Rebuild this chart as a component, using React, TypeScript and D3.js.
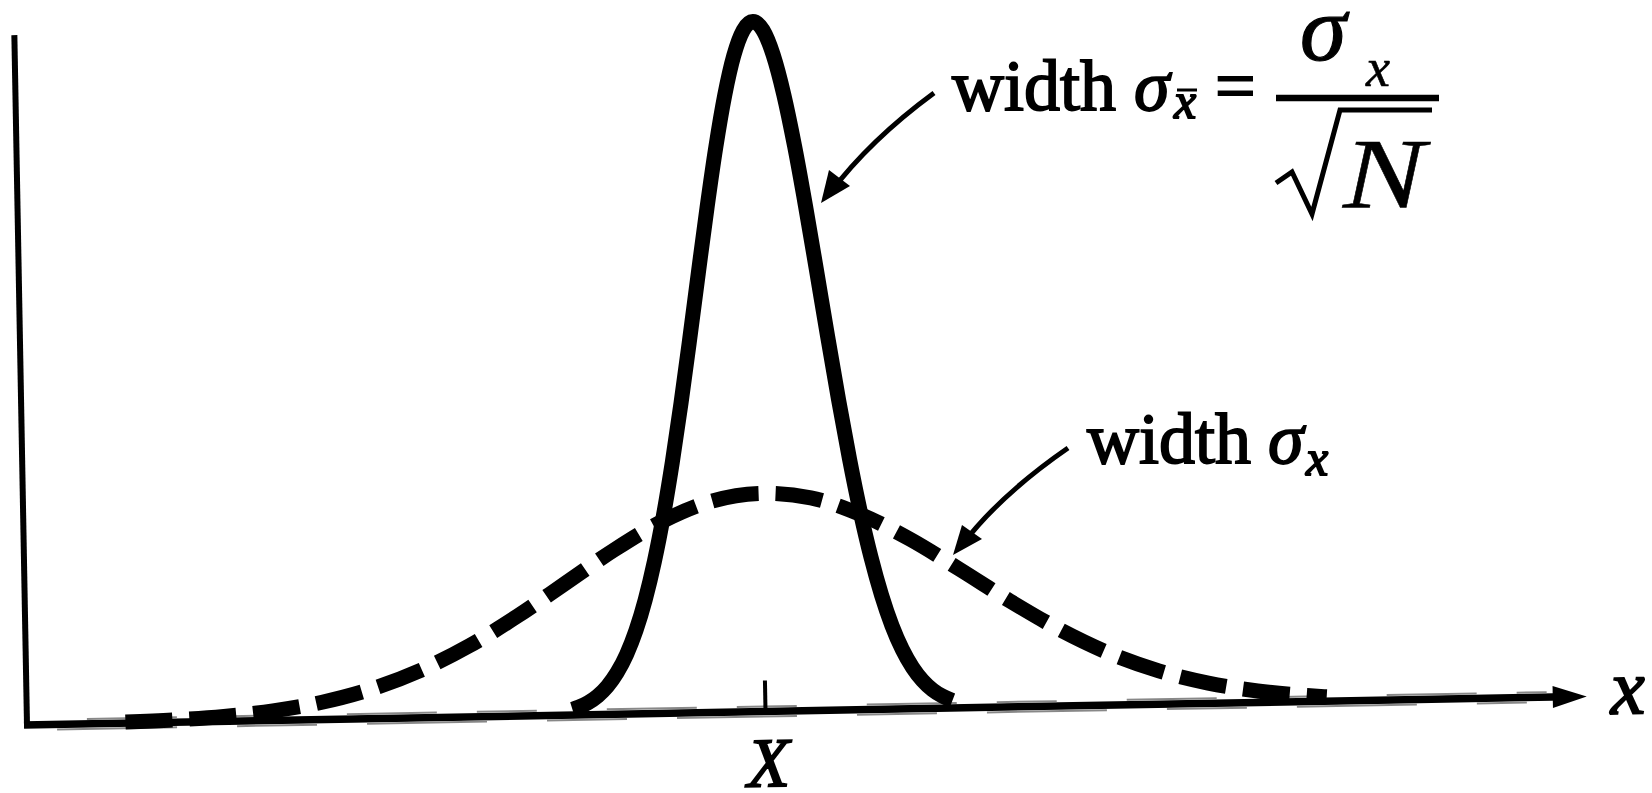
import React from "react";
import * as d3 from "d3";

const W = 1652;
const H = 793;

// Horizontal unit: the width σx of the single-measurement distribution; 0 is the true value X.
const axisXRange = [-3.75, 4.17];
const axisYMax = 1.2616;

// Distribution of single measurements (width σx) — dashed curve
const singleXs = [-3.25, -3.0, -2.75, -2.5, -2.25, -2.0, -1.75, -1.5, -1.25, -1.0, -0.75, -0.5, -0.25, 0,
  0.25, 0.5, 0.75, 1.0, 1.25, 1.5, 1.75, 2.0, 2.25, 2.5, 2.75, 2.85];
const singleYs = [0.0020, 0.0044, 0.0091, 0.0175, 0.0317, 0.0540, 0.0863, 0.1295, 0.1827, 0.2420, 0.3011, 0.3521, 0.3867, 0.3989,
  0.3890, 0.3570, 0.3100, 0.2530, 0.1940, 0.1400, 0.0950, 0.0610, 0.0370, 0.0210, 0.0110, 0.0080];

// Distribution of the mean of N measurements (width σx/√N) — solid curve
const meanXs = [-0.98, -0.95, -0.9, -0.85, -0.8, -0.75, -0.7, -0.65, -0.6, -0.55, -0.5, -0.45, -0.4, -0.35, -0.3, -0.25, -0.2, -0.15, -0.1, -0.05, 0,
  0.05, 0.1, 0.15, 0.2, 0.25, 0.3, 0.35, 0.4, 0.45, 0.5, 0.55, 0.6, 0.65, 0.7, 0.75, 0.8, 0.85, 0.9, 0.95];
const meanYs = [0.0104, 0.0138, 0.0220, 0.0340, 0.0514, 0.0758, 0.1089, 0.1525, 0.2085, 0.2781, 0.3614, 0.4584, 0.5669, 0.6838, 0.8044, 0.9230, 1.0329, 1.1274, 1.2001, 1.2459, 1.2616,
  1.2459, 1.2001, 1.1274, 1.0329, 0.9230, 0.8044, 0.6838, 0.5669, 0.4584, 0.3614, 0.2781, 0.2085, 0.1525, 0.1089, 0.0758, 0.0514, 0.0340, 0.0220, 0.0138];

const trueValue = 0;
const trueValueLabel = "X";
const axisLabel = "x";

const SERIF = "'Liberation Serif', 'Times New Roman', serif";
// scanned lettering is a little heavier than the plain face
const ink = { fill: "#000", stroke: "#000", strokeWidth: 1.8 } as const;

export default function App() {
  // plot frame (the whole drawing sits slightly tilted)
  const ox = 27;
  const oy = 725;
  const tilt = -1.05;

  const x = d3.scaleLinear().domain(axisXRange).range([ox, 1587]);
  const y = d3.scaleLinear().domain([0, axisYMax]).range([oy, 35]);

  const line = d3
    .line<[number, number]>()
    .x((d) => x(d[0]))
    .y((d) => y(d[1]))
    .curve(d3.curveMonotoneX);

  const singlePath = line(singleXs.map((v, i) => [v, singleYs[i]]) as [number, number][]) || "";
  const meanPath = line(meanXs.map((v, i) => [v, meanYs[i]]) as [number, number][]) || "";

  const xEnd = x(axisXRange[1]);
  const xTick = x(trueValue);

  return (
    <svg
      width={W}
      height={H}
      viewBox={`0 0 ${W} ${H}`}
      style={{ position: "absolute", left: 0, top: 0, background: "#fff" }}
    >
      <rect x={0} y={0} width={W} height={H} fill="#fff" />
      <g transform={`rotate(${tilt}, ${ox}, ${oy})`}>
        {/* axes */}
        <line x1={ox} y1={oy + 3} x2={ox} y2={y(axisYMax)} stroke="#000" strokeWidth={6} />
        <line x1={ox - 3} y1={oy} x2={xEnd - 20} y2={oy} stroke="#000" strokeWidth={7.5} />
        {/* faint doubling of the axis line */}
        <line x1={ox + 60} y1={oy - 5} x2={xEnd - 40} y2={oy - 5} stroke="#888" strokeWidth={2} strokeDasharray="90 40 60 70" />
        <line x1={ox + 30} y1={oy + 5} x2={xEnd - 60} y2={oy + 5} stroke="#888" strokeWidth={2} strokeDasharray="120 60 80 50" />
        <path d={`M${xEnd},${oy} L${xEnd - 34},${oy - 11} L${xEnd - 34},${oy + 11} Z`} fill="#000" />
        {/* tick at the true value */}
        <line x1={xTick} y1={oy} x2={xTick} y2={oy - 31} stroke="#000" strokeWidth={4} />
        <text x={xTick + 2} y={oy + 75} fontFamily={SERIF} fontStyle="italic" fontSize={70} textAnchor="middle" {...ink}>
          {trueValueLabel}
        </text>
        <text x={xEnd + 41} y={oy + 18} fontFamily={SERIF} fontStyle="italic" fontSize={78} textAnchor="middle" {...ink}>
          {axisLabel}
        </text>
        {/* curves */}
        <path d={singlePath} fill="none" stroke="#000" strokeWidth={15} strokeDasharray="47 17" />
        <path d={meanPath} fill="none" stroke="#000" strokeWidth={15} strokeLinejoin="round" />
      </g>

      {/* annotation: distribution of the mean */}
      <path d="M934,93 Q870,140 830,193" fill="none" stroke="#000" strokeWidth={5} />
      <path d="M821,203 L829,170 L850,186 Z" fill="#000" />
      <text x={952} y={110} fontFamily={SERIF} fontSize={72} {...ink}>
        width
      </text>
      <text x={1134} y={110} fontFamily={SERIF} fontStyle="italic" fontSize={72} {...ink}>
        σ
      </text>
      <text x={1174} y={118} fontFamily={SERIF} fontStyle="italic" fontSize={50} {...ink}>
        x
      </text>
      <line x1={1177} y1={90} x2={1197} y2={90} stroke="#000" strokeWidth={3} />
      <text x={1215} y={110} fontFamily={SERIF} fontSize={72} {...ink}>
        =
      </text>
      {/* σx / √N */}
      <text x={1300} y={60} fontFamily={SERIF} fontStyle="italic" fontSize={94} stroke="#000" strokeWidth={1.2}>
        σ
      </text>
      <text x={1366} y={86} fontFamily={SERIF} fontStyle="italic" fontSize={54} stroke="#000" strokeWidth={0.6}>
        x
      </text>
      <line x1={1276} y1={98} x2={1439} y2={98} stroke="#000" strokeWidth={6.5} />
      <path d="M1276,183 L1292,172 L1312,214 L1340,110 L1432,110" fill="none" stroke="#000" strokeWidth={5} strokeLinejoin="miter" />
      <text x={1343} y={207} fontFamily={SERIF} fontStyle="italic" fontSize={100} textLength={82} lengthAdjust="spacingAndGlyphs" stroke="#000" strokeWidth={0.5}>
        N
      </text>

      {/* annotation: distribution of single measurements */}
      <path d="M1068,448 Q1000,495 962,545" fill="none" stroke="#000" strokeWidth={5} />
      <path d="M953,555 L962,525 L982,539 Z" fill="#000" />
      <text x={1087} y={463} fontFamily={SERIF} fontSize={72} {...ink}>
        width
      </text>
      <text x={1268} y={463} fontFamily={SERIF} fontStyle="italic" fontSize={72} {...ink}>
        σ
      </text>
      <text x={1306} y={475} fontFamily={SERIF} fontStyle="italic" fontSize={50} {...ink}>
        x
      </text>
    </svg>
  );
}
